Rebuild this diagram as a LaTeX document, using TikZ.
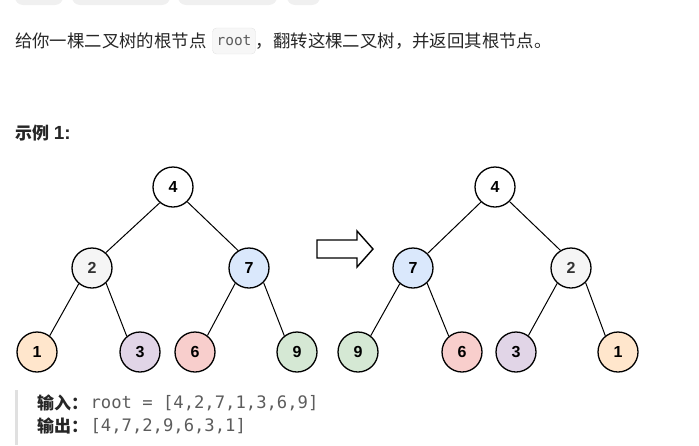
\documentclass[tikz,border=0pt]{standalone}
\usepackage{fontspec}
\setmainfont{Liberation Sans}
\setmonofont{DejaVu Sans Mono}
\newfontfamily\cjk{Noto Sans CJK SC}
\usetikzlibrary{positioning}
\definecolor{maintext}{HTML}{262626}
\definecolor{codetext}{HTML}{5C5C5C}
\definecolor{codebg}{HTML}{F7F7F7}
\definecolor{codeline}{HTML}{E3E3E3}
\definecolor{pillgray}{HTML}{F0F0F0}
\definecolor{quotebar}{HTML}{E0E0E0}
\definecolor{fillgray}{HTML}{F5F5F5}
\definecolor{fillblue}{HTML}{DAE8FC}
\definecolor{fillorange}{HTML}{FFE6CC}
\definecolor{fillpurple}{HTML}{E1D5E7}
\definecolor{fillred}{HTML}{F8CECC}
\definecolor{fillgreen}{HTML}{D5E8D4}

\begin{document}
\begin{tikzpicture}[
      x=1pt, y=-1pt,
      every node/.style={text=maintext, inner sep=0pt},
      para/.style={font=\cjk\fontsize{17.4}{20}\selectfont, anchor=west},
      heading/.style={font=\bfseries\fontsize{17}{20}\selectfont, anchor=west},
      codebox/.style={
        draw=codeline, fill=codebg, rounded corners=4pt,
        minimum width=43pt, minimum height=26pt,
        font=\ttfamily\fontsize{14.5}{16}\selectfont, text=codetext
      },
      iolabel/.style={font=\cjk\bfseries\fontsize{17}{20}\selectfont, anchor=west},
      iocode/.style={font=\ttfamily\fontsize{17.2}{20}\selectfont, text=codetext},
      treenode/.style={
        circle, draw=black, line width=1.3pt, minimum size=40pt,
        font=\bfseries\fontsize{16}{18}\selectfont, text=black
      },
      edge/.style={line width=1pt}
    ]
      \useasboundingbox (0,0) rectangle (699,445);
      % tabs cut off at the top
      \fill[pillgray, rounded corners=8pt] (15,-12) rectangle (63,5);
      \fill[pillgray, rounded corners=8pt] (72,-12) rectangle (170,5);
      \fill[pillgray, rounded corners=8pt] (178,-12) rectangle (277,5);
      \fill[pillgray, rounded corners=8pt] (287,-12) rectangle (320,5);

      \node[para] (q1) at (15,41) {给你一棵二叉树的根节点};
      \node[codebox, right=5.5pt of q1] (qcode) {root};
      \node[para, right=0pt of qcode] (q2) {，翻转这棵二叉树，并返回其根节点。};

      \node[heading] (ex1) at (15,133) {{\cjk 示例} {\fontsize{19}{20}\selectfont 1:}};

      % input tree
      \node[treenode, fill=white] (l4) at (173,187) {4};
      \node[treenode, fill=fillgray, text=black!80] (l2) at (92,268) {2};
      \node[treenode, fill=fillblue] (l7) at (249,268) {7};
      \node[treenode, fill=fillorange] (l1) at (37,352) {1};
      \node[treenode, fill=fillpurple] (l3) at (140,352) {3};
      \node[treenode, fill=fillred] (l6) at (195,352) {6};
      \node[treenode, fill=fillgreen] (l9) at (297,352) {9};
      \draw[edge] (l4.-130) -- (l2.48);
      \draw[edge] (l4.-46) -- (l7.122);
      \draw[edge] (l2.-130) -- (l1.52);
      \draw[edge] (l2.-47) -- (l3.130);
      \draw[edge] (l7.-132) -- (l6.53);
      \draw[edge] (l7.-45) -- (l9.128);

      % arrow
      \draw[line width=1.4pt, fill=white]
        (317,240) -- (357,240) -- (357,231) -- (373,249)
        -- (357,267) -- (357,258) -- (317,258) -- cycle;

      % inverted tree
      \node[treenode, fill=white] (r4) at (495,187) {4};
      \node[treenode, fill=fillblue] (r7) at (413,268) {7};
      \node[treenode, fill=fillgray, text=black!80] (r2) at (571,268) {2};
      \node[treenode, fill=fillgreen] (r9) at (358,352) {9};
      \node[treenode, fill=fillred] (r6) at (462,352) {6};
      \node[treenode, fill=fillpurple] (r3) at (516,352) {3};
      \node[treenode, fill=fillorange] (r1) at (618,352) {1};
      \draw[edge] (r4.-133) -- (r7.45);
      \draw[edge] (r4.-45) -- (r2.121);
      \draw[edge] (r7.-130) -- (r9.52);
      \draw[edge] (r7.-47) -- (r6.130);
      \draw[edge] (r2.-132) -- (r3.53);
      \draw[edge] (r2.-45) -- (r1.128);

      % example block
      \fill[quotebar] (15,390) rectangle (17.5,445);
      \node[iolabel] (in) at (37,403) {输入：};
      \node[iocode, right=2pt of in] (incode) {root = [4,2,7,1,3,6,9]};
      \node[iolabel] (out) at (37,426) {输出：};
      \node[iocode, right=2pt of out] (outcode) {[4,7,2,9,6,3,1]};
    \end{tikzpicture}
\end{document}
